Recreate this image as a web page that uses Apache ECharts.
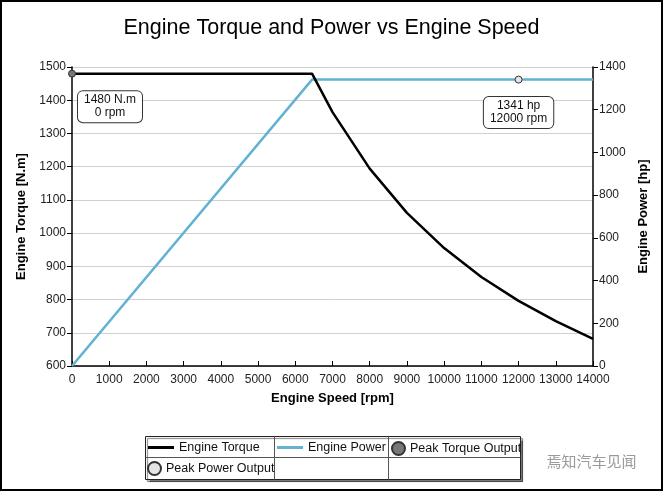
<!DOCTYPE html>
<html><head><meta charset="utf-8">
<script src="https://cdn.jsdelivr.net/npm/echarts@6/dist/echarts.min.js"></script>
<style>html,body{margin:0;padding:0;background:#fff}#c{width:663px;height:492px}</style>
</head><body><div id="c"></div>
<script>
const speedRpm = [0, 6450, 7000, 8000, 9000, 10000, 11000, 12000, 13000, 14000];
const torqueNm = [1480, 1480, 1364, 1194, 1061, 955, 868, 796, 735, 682];
const powerHp = [0, 1341, 1341, 1341, 1341, 1341, 1341, 1341, 1341, 1341];
const peakTorque = [0, 1480];
const peakPower = [12000, 1341];
const titleText = 'Engine Torque and Power vs Engine Speed';
const seriesNames = ['Engine Torque', 'Engine Power', 'Peak Torque Output', 'Peak Power Output'];

const chart = echarts.init(document.getElementById('c'), null, {renderer: 'canvas'});
const font = 'Arial, "Liberation Sans", sans-serif';
const plain = v => String(v);
const labelBox = {
  show: true, position: 'inside', color: '#111', fontSize: 12, fontFamily: font,
  lineHeight: 13, align: 'center', backgroundColor: '#fff', borderColor: '#333',
  borderWidth: 1, borderRadius: 5, padding: [3, 6, 2, 6]
};
const legendText = {fontSize: 12.5, color: '#111', fontFamily: font};
chart.setOption({
  backgroundColor: '#fff',
  animation: false,
  textStyle: {fontFamily: font},
  title: {text: titleText, left: 'center', top: 12,
    textStyle: {fontSize: 21.5, fontWeight: 'normal', color: '#000', fontFamily: font}},
  grid: {left: 72, right: 70, top: 67, bottom: 126},
  legend: [
    {data: [{name: seriesNames[0], icon: 'rect'}], left: 148, top: 441, padding: 0, itemWidth: 26, itemHeight: 3,
      textStyle: legendText},
    {data: [{name: seriesNames[1], icon: 'rect'}], left: 277, top: 441, padding: 0, itemWidth: 26, itemHeight: 3,
      textStyle: legendText},
    {data: [seriesNames[2]], left: 391, top: 441, padding: 0, itemWidth: 13, itemHeight: 13, icon: 'circle',
      textStyle: legendText},
    {data: [seriesNames[3]], left: 147, top: 461, padding: 0, itemWidth: 13, itemHeight: 13, icon: 'circle',
      textStyle: legendText}
  ],
  xAxis: {
    type: 'value', min: 0, max: 14000, interval: 1000,
    name: 'Engine Speed [rpm]', nameLocation: 'middle', nameGap: 26,
    nameTextStyle: {fontWeight: 'bold', fontSize: 13, color: '#000'},
    axisLine: {lineStyle: {color: '#000', width: 1.5}},
    axisTick: {inside: true, length: 5, lineStyle: {color: '#000'}},
    axisLabel: {fontSize: 12, color: '#222', margin: 8, formatter: plain},
    splitLine: {show: false}
  },
  yAxis: [
    {
      type: 'value', min: 600, max: 1500, interval: 100, position: 'left',
      name: 'Engine Torque [N.m]', nameLocation: 'middle', nameGap: 42, nameRotate: 90,
      nameTextStyle: {fontWeight: 'bold', fontSize: 13, color: '#000'},
      axisLine: {show: true, lineStyle: {color: '#000', width: 1.5}},
      axisTick: {show: true, length: 5, lineStyle: {color: '#000'}},
      axisLabel: {fontSize: 12, color: '#222', margin: 6, formatter: plain},
      splitLine: {show: true, lineStyle: {color: '#d0d0d0', width: 1}}
    },
    {
      type: 'value', min: 0, max: 1400, interval: 200, position: 'right',
      name: 'Engine Power [hp]', nameLocation: 'middle', nameGap: 41, nameRotate: 90,
      nameTextStyle: {fontWeight: 'bold', fontSize: 13, color: '#000'},
      axisLine: {show: true, lineStyle: {color: '#000', width: 1.5}},
      axisTick: {show: true, length: 5, lineStyle: {color: '#000'}},
      axisLabel: {fontSize: 12, color: '#222', margin: 6, formatter: plain},
      splitLine: {show: false}
    }
  ],
  series: [
    {name: seriesNames[1], type: 'line', yAxisIndex: 1, symbol: 'none',
      data: speedRpm.map((s, i) => [s, powerHp[i]]),
      lineStyle: {color: '#62b2d2', width: 2.5}, itemStyle: {color: '#62b2d2'}},
    {name: seriesNames[0], type: 'line', yAxisIndex: 0, symbol: 'none',
      data: speedRpm.map((s, i) => [s, torqueNm[i]]),
      lineStyle: {color: '#000', width: 2.5}, itemStyle: {color: '#000'}},
    {name: seriesNames[2], type: 'scatter', yAxisIndex: 0, symbolSize: 7, z: 5,
      itemStyle: {color: '#777', borderColor: '#333', borderWidth: 1, opacity: 1},
      label: Object.assign({}, labelBox, {offset: [38, 33],
        formatter: p => p.value[1] + ' N.m\n' + p.value[0] + ' rpm'}),
      data: [peakTorque]},
    {name: seriesNames[3], type: 'scatter', yAxisIndex: 1, symbolSize: 7, z: 5,
      itemStyle: {color: '#e4e4e4', borderColor: '#333', borderWidth: 1, opacity: 1},
      label: Object.assign({}, labelBox, {offset: [0, 33],
        formatter: p => p.value[1] + ' hp\n' + p.value[0] + ' rpm'}),
      data: [peakPower]}
  ],
  graphic: [
    {type: 'rect', shape: {x: 1, y: 1, width: 661, height: 489}, silent: true, z: -1,
      style: {fill: null, stroke: '#000', lineWidth: 2}},
    {type: 'rect', shape: {x: 145.5, y: 436.5, width: 375, height: 43}, silent: true, z: -1,
      style: {fill: '#fff', stroke: '#222', lineWidth: 1, shadowColor: 'rgba(0,0,0,0.5)', shadowOffsetX: 2, shadowOffsetY: 2, shadowBlur: 1}},
    {type: 'line', shape: {x1: 145.5, y1: 457.5, x2: 520.5, y2: 457.5}, silent: true, style: {stroke: '#555', lineWidth: 1}},
    {type: 'line', shape: {x1: 274.5, y1: 436.5, x2: 274.5, y2: 479.5}, silent: true, style: {stroke: '#555', lineWidth: 1}},
    {type: 'line', shape: {x1: 388.5, y1: 436.5, x2: 388.5, y2: 479.5}, silent: true, style: {stroke: '#555', lineWidth: 1}},
    {type: 'text', left: 546, top: 453, silent: true,
      style: {text: '焉知汽车见闻', font: '15px "Noto Sans CJK SC"', fill: '#9a9a9a', stroke: '#fff', lineWidth: 1}}
  ]
});
</script></body></html>
